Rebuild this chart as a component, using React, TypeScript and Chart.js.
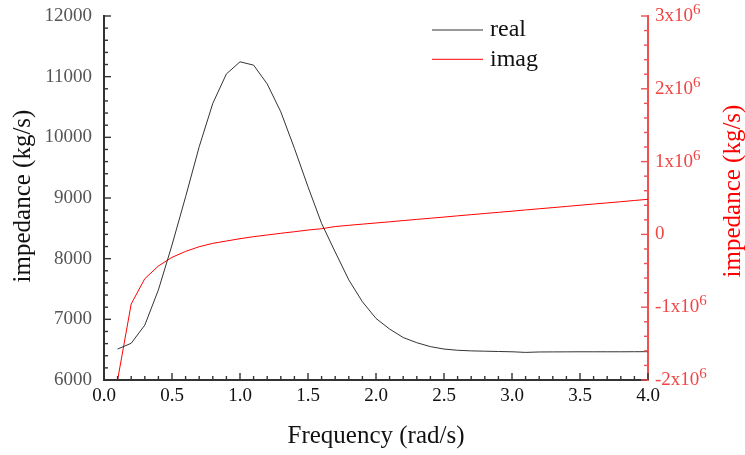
import React, { useEffect, useRef } from "react";
import { Chart, registerables } from "chart.js";

Chart.register(...registerables);

const freq = [0.1,0.2,0.3,0.4,0.5,0.6,0.7,0.8,0.9,1.0,1.1,1.2,1.3,1.4,1.5,1.6,1.7,1.8,1.9,2.0,2.1,2.2,2.3,2.4,2.5,2.6,2.7,2.8,2.9,3.0,3.1,3.2,3.3,3.4,3.5,3.6,3.7,3.8,3.9,4.0];
const realVals = [6510,6605,6905,7485,8225,9020,9845,10560,11045,11245,11190,10880,10420,9820,9185,8580,8110,7650,7290,7015,6840,6700,6615,6550,6510,6490,6480,6475,6470,6465,6455,6462,6463,6464,6465,6465,6465,6465,6466,6467];
const imagVals = [-2000000,-956000,-608000,-434000,-315000,-233000,-169000,-123000,-91000,-59000,-31000,-8000,15000,37000,60000,78000,108000,125000,141000,157000,173000,190000,206000,222000,238000,255000,271000,287000,303000,319000,336000,352000,368000,384000,401000,417000,433000,449000,466000,482000];
const seriesNames = ["real", "imag"];
const xTitle = "Frequency (rad/s)";
const yTitle = "impedance (kg/s)";
const rightMantissas = [-2, -1, 0, 1, 2, 3];
const rightExponent = "6";

const FONT = "'Liberation Serif', 'Times New Roman', serif";
const RIGHT_LABEL_COLOR = "#f04545";

const decorPlugin = {
  id: "decor",
  afterDraw(chart: any) {
    const ctx = chart.ctx;
    const { left, right, top, bottom } = chart.chartArea;
    const sx = chart.scales.x, sy = chart.scales.y, sy2 = chart.scales.y2;
    ctx.save();
    // inward ticks
    ctx.lineWidth = 1.4;
    ctx.strokeStyle = "#333";
    for (let i = 0; i <= 40; i++) {
      const px = sx.getPixelForValue(i * 0.1);
      const len = i % 5 === 0 ? 7 : 4;
      ctx.beginPath();
      ctx.moveTo(px, bottom);
      ctx.lineTo(px, bottom - len);
      ctx.stroke();
    }
    for (let i = 0; i <= 30; i++) {
      const py = sy.getPixelForValue(6000 + i * 200);
      const len = i % 5 === 0 ? 7 : 4;
      ctx.beginPath();
      ctx.moveTo(left, py);
      ctx.lineTo(left + len, py);
      ctx.stroke();
    }
    ctx.strokeStyle = "#f05050";
    for (let i = 0; i <= 25; i++) {
      const py = sy2.getPixelForValue(-2000000 + i * 200000);
      const len = i % 5 === 0 ? 7 : 4;
      ctx.beginPath();
      ctx.moveTo(right, py);
      ctx.lineTo(right - len, py);
      ctx.stroke();
    }
    // right tick labels with superscript exponent
    ctx.textAlign = "left";
    ctx.textBaseline = "middle";
    ctx.fillStyle = RIGHT_LABEL_COLOR;
    for (const m of rightMantissas) {
      const py = sy2.getPixelForValue(m * 1000000);
      const x0 = right + 7;
      ctx.font = `19px ${FONT}`;
      if (m === 0) {
        ctx.fillText("0", x0, py);
        continue;
      }
      const base = `${m}x10`;
      ctx.fillText(base, x0, py);
      const w = ctx.measureText(base).width;
      ctx.font = `15px ${FONT}`;
      ctx.fillText(rightExponent, x0 + w, py - 6);
    }
    // titles
    ctx.fillStyle = "#111";
    ctx.font = `25px ${FONT}`;
    ctx.textAlign = "center";
    ctx.textBaseline = "middle";
    ctx.fillText(xTitle, (left + right) / 2, 436);
    ctx.save();
    ctx.translate(23, 196);
    ctx.rotate(-Math.PI / 2);
    ctx.fillText(yTitle, 0, 0);
    ctx.restore();
    ctx.save();
    ctx.fillStyle = "#ff0000";
    ctx.translate(733, 191);
    ctx.rotate(-Math.PI / 2);
    ctx.fillText(yTitle, 0, 0);
    ctx.restore();
    // legend
    const colors = ["#333333", "#ff0000"];
    ctx.font = `24px ${FONT}`;
    ctx.textAlign = "left";
    for (let i = 0; i < seriesNames.length; i++) {
      const y = 30 + i * 29.3;
      ctx.strokeStyle = colors[i];
      ctx.lineWidth = 1;
      ctx.beginPath();
      ctx.moveTo(432, y);
      ctx.lineTo(483, y);
      ctx.stroke();
      ctx.fillStyle = "#111";
      ctx.fillText(seriesNames[i], 490, y);
    }
    ctx.restore();
  },
};

const fitV = (w: number) => (s: any) => {
  s.width = w;
  s.paddingTop = 0;
  s.paddingBottom = 0;
};

export default function App() {
  const ref = useRef<HTMLCanvasElement | null>(null);
  useEffect(() => {
    if (!ref.current) return;
    const chart = new Chart(ref.current, {
      type: "line",
      data: {
        datasets: [
          {
            label: seriesNames[0],
            data: freq.map((f, i) => ({ x: f, y: realVals[i] })),
            borderColor: "#333333",
            borderWidth: 1,
            pointRadius: 0,
            tension: 0,
            yAxisID: "y",
          },
          {
            label: seriesNames[1],
            data: freq.map((f, i) => ({ x: f, y: imagVals[i] })),
            borderColor: "#ff0000",
            borderWidth: 1,
            pointRadius: 0,
            tension: 0,
            yAxisID: "y2",
          },
        ],
      },
      options: {
        animation: false,
        responsive: false,
        maintainAspectRatio: false,
        layout: { padding: { top: 16, left: 0, right: 0, bottom: 0 } },
        plugins: { legend: { display: false }, tooltip: { enabled: false } },
        scales: {
          x: {
            type: "linear",
            min: 0,
            max: 4,
            grid: { display: false, drawTicks: false },
            border: { display: true, color: "#333", width: 2 },
            ticks: {
              stepSize: 0.5,
              padding: 5,
              color: "#111",
              font: { family: FONT, size: 19 },
              maxRotation: 0,
              callback: (v: any) => Number(v).toFixed(1),
            },
            afterFit: (s: any) => {
              s.height = 75;
              s.paddingLeft = 0;
              s.paddingRight = 0;
            },
          },
          y: {
            type: "linear",
            position: "left",
            min: 6000,
            max: 12000,
            grid: { display: false, drawTicks: false },
            border: { display: true, color: "#333", width: 2 },
            ticks: {
              stepSize: 1000,
              padding: 12,
              color: "#555",
              font: { family: FONT, size: 19 },
              callback: (v: any) => String(v),
            },
            afterFit: fitV(104),
          },
          y2: {
            type: "linear",
            position: "right",
            min: -2000000,
            max: 3000000,
            grid: { display: false, drawTicks: false },
            border: { display: true, color: "#f05050", width: 2 },
            ticks: {
              stepSize: 1000000,
              padding: 7,
              color: "rgba(0,0,0,0)",
              font: { family: FONT, size: 19 },
              callback: (v: any) => String(Math.round(Number(v) / 1000000)),
            },
            afterFit: fitV(97),
          },
        },
      },
      plugins: [decorPlugin],
    });
    return () => chart.destroy();
  }, []);
  return (
    <div style={{ position: "absolute", left: 0, top: 0, width: 745, height: 455, background: "#fff" }}>
      <canvas ref={ref} width={745} height={455} style={{ width: 745, height: 455 }} />
    </div>
  );
}
